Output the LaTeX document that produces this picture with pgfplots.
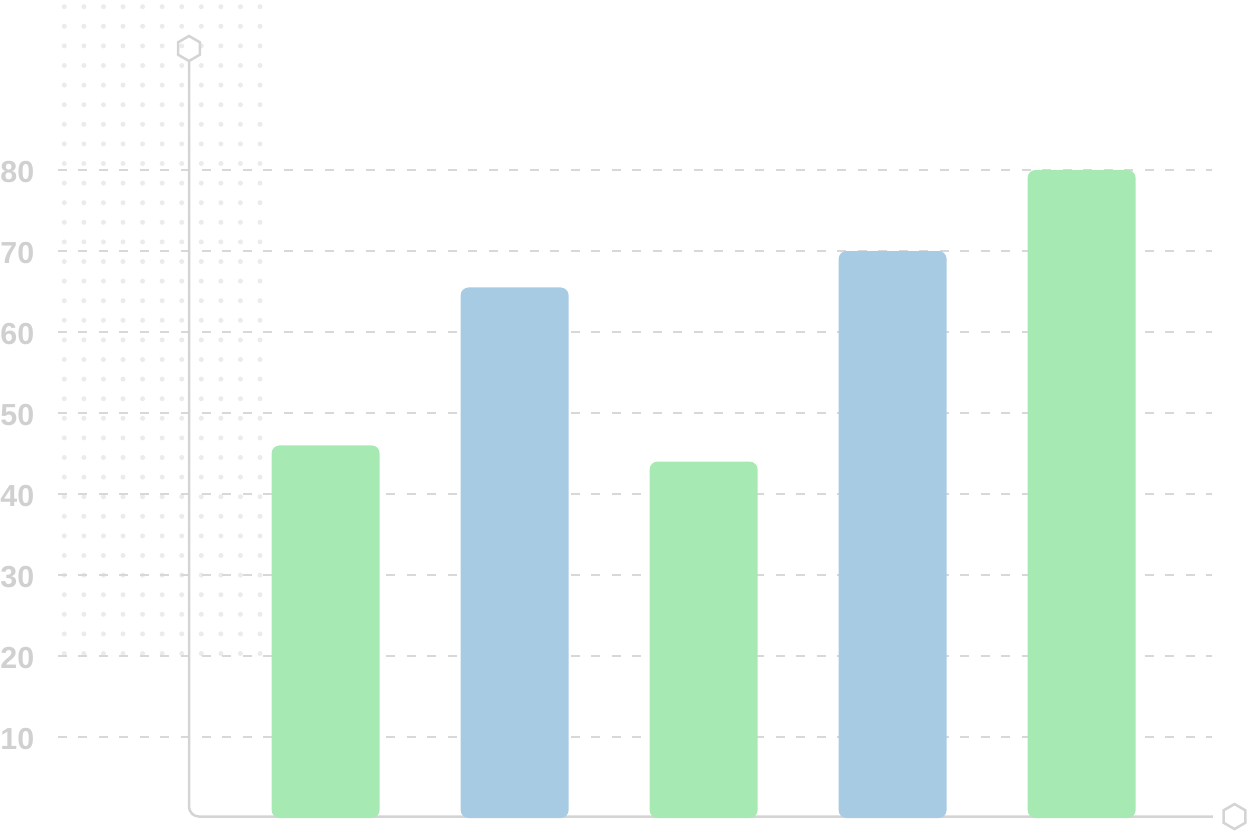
\documentclass[border=0pt]{standalone}
\usepackage{fontspec}
\setmainfont{Liberation Sans}
\usepackage{pgfplots}
\pgfplotsset{compat=1.18}
\definecolor{barGreen}{HTML}{A6E9B2}
\definecolor{barBlue}{HTML}{A8CBE4}
\definecolor{gridgray}{HTML}{D8D8D8}
\definecolor{axisgray}{HTML}{D4D4D4}
\definecolor{tickgray}{HTML}{D0D0D0}
\definecolor{dotgray}{HTML}{EBEBEB}
\begin{document}
\begin{tikzpicture}
\path[use as bounding box] (0,0) rectangle (624pt,416pt);
% decorative dot grid
\foreach \i in {0,...,10}{
  \foreach \j in {0,...,33}{
    \fill[dotgray] ({32.15pt+9.785pt*\i},{412.65pt-9.8pt*\j}) circle (1.25pt);
  }
}
\begin{axis}[
  at={(29pt,7pt)}, anchor=south west,
  width=577pt, height=389pt, scale only axis,
  xmin=-1.416, xmax=4.690,
  ymin=0, ymax=96.05,
  y coord trafo/.code={\pgfmathparse{#1+2}},
  y coord inv trafo/.code={\pgfmathparse{#1-2}},
  clip mode=individual,
  axis line style={draw=none},
  major tick style={draw=none},
  xtick=\empty,
  ytick={10,20,30,40,50,60,70,80},
  yticklabels={10,20,30,40,50,60,70,80},
  yticklabel style={font=\fontsize{15.2}{17}\selectfont\bfseries, text=tickgray, anchor=west, inner sep=0pt, xshift=-29pt, yshift=-1.2pt},
  ymajorgrids,
  major grid style={gridgray, line width=1pt, dash pattern=on 4.5pt off 5.75pt},
  ybar, bar width=54pt, bar shift=0pt,
]
\draw[axisgray, line width=1.25pt, rounded corners=5pt]
  (axis cs:-0.7228,93.4) -- (axis cs:-0.7228,0.18) -- (axis cs:4.695,0.18);
\coordinate (htop) at (axis cs:-0.7228,95.0);
\coordinate (hright) at (axis cs:4.809,0.18);
\addplot[fill=barGreen, draw=none, rounded corners=4pt] coordinates {(0,46) (2,44) (4,80)};
\addplot[fill=barBlue, draw=none, rounded corners=4pt] coordinates {(1,65.5) (3,70)};
\end{axis}
\draw[axisgray, line width=1.25pt, shift={(htop)}] (90:6.25pt) -- (150:6.25pt) -- (210:6.25pt) -- (270:6.25pt) -- (330:6.25pt) -- (30:6.25pt) -- cycle;
\draw[axisgray, line width=1.25pt, shift={(hright)}] (90:6.25pt) -- (150:6.25pt) -- (210:6.25pt) -- (270:6.25pt) -- (330:6.25pt) -- (30:6.25pt) -- cycle;
\end{tikzpicture}
\end{document}
